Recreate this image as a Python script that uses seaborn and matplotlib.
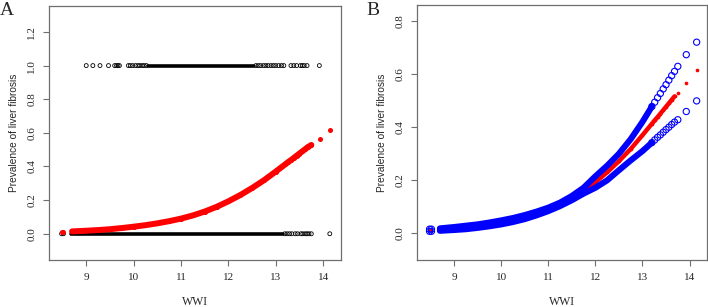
#WWI vs liver fibrosis - fitted curve (A) and 95% CI (B)

import numpy as np
import pandas as pd
import matplotlib
matplotlib.use("Agg")
import matplotlib.pyplot as plt
import seaborn as sns

# fitted curve
wwi = [8.48, 8.52, 8.70, 9.00, 9.25, 9.50, 9.75, 10.00, 10.25, 10.50, 10.75, 11.00, 11.25, 11.50, 11.75,
       12.00, 12.25, 12.50, 12.75, 13.00, 13.20, 13.26, 13.32, 13.38, 13.44, 13.50, 13.56, 13.62, 13.68,
       13.75, 13.93, 14.15]
prob = [0.012, 0.012, 0.014, 0.018, 0.022, 0.027, 0.034, 0.042, 0.051, 0.062, 0.075, 0.090, 0.109, 0.132, 0.160,
        0.193, 0.230, 0.272, 0.318, 0.370, 0.413, 0.426, 0.438, 0.451, 0.464, 0.477, 0.490, 0.503, 0.516,
        0.528, 0.566, 0.614]
upper = [0.016, 0.016, 0.019, 0.024, 0.029, 0.034, 0.041, 0.049, 0.058, 0.069, 0.082, 0.097, 0.116, 0.141, 0.172,
         0.215, 0.255, 0.300, 0.355, 0.420, 0.478, 0.494, 0.511, 0.527, 0.544, 0.560, 0.577, 0.594, 0.610,
         0.629, 0.673, 0.720]
lower = [0.008, 0.008, 0.010, 0.013, 0.016, 0.021, 0.027, 0.034, 0.043, 0.054, 0.068, 0.084, 0.103, 0.125, 0.150,
         0.172, 0.200, 0.238, 0.275, 0.310, 0.342, 0.352, 0.362, 0.371, 0.381, 0.391, 0.400, 0.410, 0.419,
         0.428, 0.459, 0.499]

# observed outcome (0 = no fibrosis, 1 = fibrosis)
obs0_dense = [8.68, 13.16]
obs0_sparse = [8.48, 8.52, 13.19, 13.24, 13.29, 13.34, 13.41, 13.46, 13.53, 13.57, 13.62, 13.66, 13.70, 13.75, 14.14]
obs1_dense = [10.30, 12.55]
obs1_sparse = [9.00, 9.14, 9.29, 9.47, 9.60, 9.64, 9.67, 9.70, 9.89, 9.93, 9.98, 10.04, 10.09, 10.13, 10.18,
               10.22, 10.27, 12.58, 12.63, 12.68, 12.74, 12.79, 12.84, 12.90, 12.95, 13.00, 13.06, 13.12,
               13.17, 13.32, 13.38, 13.44, 13.52, 13.56, 13.60, 13.66, 13.92]

x_ticks = [9, 10, 11, 12, 13, 14]
yticks_a = [0.0, 0.2, 0.4, 0.6, 0.8, 1.0, 1.2]
yticks_b = [0.0, 0.2, 0.4, 0.6, 0.8]

df = pd.DataFrame({"wwi": wwi, "prob": prob, "upper": upper, "lower": lower})

sns.set_style("white")
plt.rcParams['font.family'] = ['Liberation Serif', 'DejaVu Serif']

GRAY = "#6f6f6f"


def setup_axes(ax, ylim, yticks):
    ax.set_xlim(8.22, 14.37)
    ax.set_ylim(*ylim)
    ax.set_xticks(x_ticks)
    ax.set_xticklabels([str(t) for t in x_ticks], fontsize=8)
    ax.set_yticks(yticks)
    ax.set_yticklabels(["%.1f" % t for t in yticks], fontsize=8, rotation=90, va="center")
    ax.tick_params(axis="both", direction="out", length=4.3, width=0.8, color=GRAY, pad=5,
                   left=True, bottom=True)
    for s in ax.spines.values():
        s.set_color(GRAY)
        s.set_linewidth(0.9)
    ax.set_xlabel("WWI", fontsize=8.5, labelpad=10)
    ax.set_ylabel("Prevalence of liver fibrosis", fontsize=7.3, family=["Liberation Sans", "DejaVu Sans"],
                  labelpad=6)


fig = plt.figure(figsize=(7.08, 3.07), dpi=100)
ax1 = fig.add_axes([0.0696, 0.1531, 0.4116, 0.8283])
ax2 = fig.add_axes([0.5894, 0.1531, 0.4092, 0.8306])

# ---- A : observations + fitted probability
for seg, yv in [(obs0_dense, 0.0), (obs1_dense, 1.0)]:
    sns.lineplot(x=seg, y=[yv, yv], ax=ax1, color="black", lw=2.6, estimator=None, sort=False)
sns.scatterplot(x=obs0_sparse, y=[0.0] * len(obs0_sparse), ax=ax1, marker="o", s=8,
                facecolor="none", edgecolor="black", linewidth=0.6)
sns.scatterplot(x=obs1_sparse, y=[1.0] * len(obs1_sparse), ax=ax1, marker="o", s=8,
                facecolor="none", edgecolor="black", linewidth=0.6)

dense_a = df[(df.wwi >= 8.6) & (df.wwi <= 13.75)]
sns.lineplot(data=dense_a, x="wwi", y="prob", ax=ax1, color="red", lw=4.3,
             estimator=None, sort=False, solid_capstyle="round")
sns.scatterplot(data=df, x="wwi", y="prob", ax=ax1, color="red", s=13, linewidth=0)
setup_axes(ax1, (-0.156, 1.356), yticks_a)

# ---- B : fitted probability with 95% CI
dense_r = df[(df.wwi >= 8.6) & (df.wwi <= 13.68)]
sns.lineplot(data=dense_r, x="wwi", y="prob", ax=ax2, color="red", lw=3.2,
             estimator=None, sort=False, solid_capstyle="round")
sns.scatterplot(data=df, x="wwi", y="prob", ax=ax2, color="red", s=7, linewidth=0)

dense_b = df[(df.wwi >= 8.6) & (df.wwi <= 13.2)]
tail_b = df[(df.wwi < 8.6) | (df.wwi >= 13.2)]
for col in ["upper", "lower"]:
    sns.lineplot(data=dense_b, x="wwi", y=col, ax=ax2, color="blue", lw=4.4,
                 estimator=None, sort=False, solid_capstyle="round")
    sns.scatterplot(data=tail_b, x="wwi", y=col, ax=ax2, marker="o", s=20,
                    facecolor="none", edgecolor="blue", linewidth=0.8)
setup_axes(ax2, (-0.1, 0.86), yticks_b)

fig.text(0.0, 0.995, "A", fontsize=14, ha="left", va="top")
fig.text(0.517, 0.995, "B", fontsize=14, ha="left", va="top")

fig.savefig("out.png", dpi=100)
